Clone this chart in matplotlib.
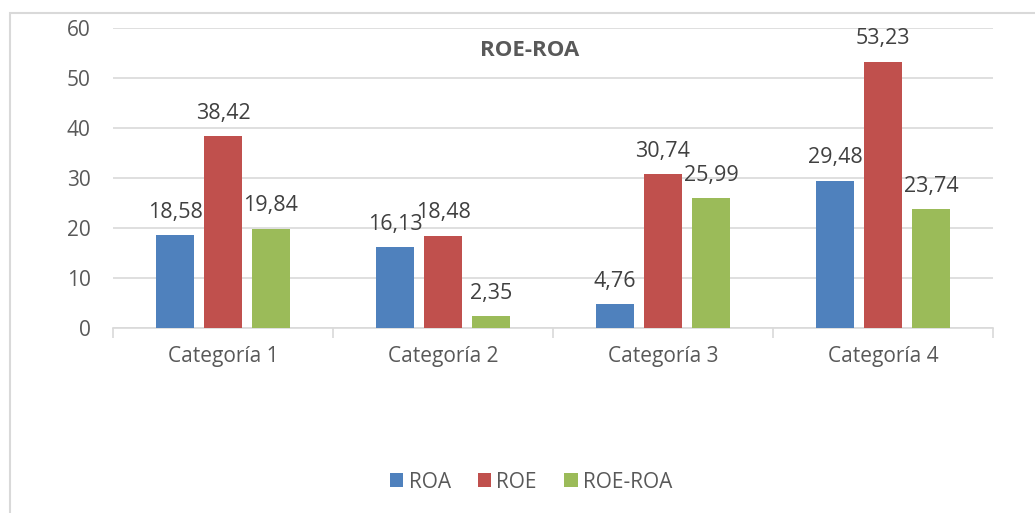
import numpy as np
import matplotlib
matplotlib.use('Agg')
import matplotlib.pyplot as plt
from matplotlib.patches import Rectangle

# Datos del gráfico
categorias = ['Categoría 1', 'Categoría 2', 'Categoría 3', 'Categoría 4']
roa = [18.58, 16.13, 4.76, 29.48]
roe = [38.42, 18.48, 30.74, 53.23]
roe_roa = [19.84, 2.35, 25.99, 23.74]
series = ['ROA', 'ROE', 'ROE-ROA']
colores = ['#4F81BD', '#C0504D', '#9BBB59']

plt.rcParams['font.family'] = ['Open Sans', 'DejaVu Sans']

fig = plt.figure(figsize=(10.35, 5.13), dpi=100)
ax = fig.add_axes([113 / 1035, 1 - 328 / 513, 880 / 1035, 300 / 513])

# Borde exterior del gráfico
fig.patches.append(Rectangle((10 / 1035, -0.1), 1.2, 1 - 13 / 513 + 0.1,
                             transform=fig.transFigure, fill=False,
                             edgecolor='#D9D9D9', linewidth=1.5))

x = np.arange(len(categorias))
ancho = 0.173
paso = 0.218
for i, (nombre, valores, color) in enumerate(zip(series, [roa, roe, roe_roa], colores)):
    pos = x + (i - 1) * paso
    barras = ax.bar(pos, valores, width=ancho, color=color, label=nombre, zorder=3)
    for b, v in zip(barras, valores):
        ax.annotate(f'{v:.2f}'.replace('.', ','), (b.get_x() + b.get_width() / 2, v),
                    xytext=(0, 12.5), textcoords='offset points', ha='center', va='baseline',
                    fontsize=15.5, color='#404040')

ax.set_ylim(0, 60)
ax.set_xlim(-0.5, 3.5)
ax.set_yticks(range(0, 61, 10))
ax.yaxis.grid(True, color='#D9D9D9', linewidth=1.2, zorder=0)
ax.tick_params(axis='y', length=0, labelsize=15, labelcolor='#595959', pad=16)

ax.set_xticks(x)
ax.set_xticklabels(categorias)
ax.set_xticks(np.arange(-0.5, 4, 1), minor=True)
ax.tick_params(axis='x', which='major', length=0, labelsize=15, labelcolor='#595959', pad=13)
ax.tick_params(axis='x', which='minor', length=7, color='#D9D9D9', width=1.2)

for lado in ['left', 'right', 'top']:
    ax.spines[lado].set_visible(False)
ax.spines['bottom'].set_color('#D9D9D9')
ax.spines['bottom'].set_linewidth(1.2)

# Título dentro del área del gráfico
ax.text((530 - 113) / 880, 0.925, 'ROE-ROA', transform=ax.transAxes, ha='center', va='center',
        fontsize=16, fontweight='bold', color='#595959')

fig.legend(loc='center', bbox_to_anchor=(531 / 1035, 1 - 482 / 513), ncol=3,
           frameon=False, fontsize=15, labelcolor='#595959', handlelength=0.65,
           handleheight=0.65, columnspacing=1.3, handletextpad=0.25)

fig.savefig('out.png', dpi=100)
